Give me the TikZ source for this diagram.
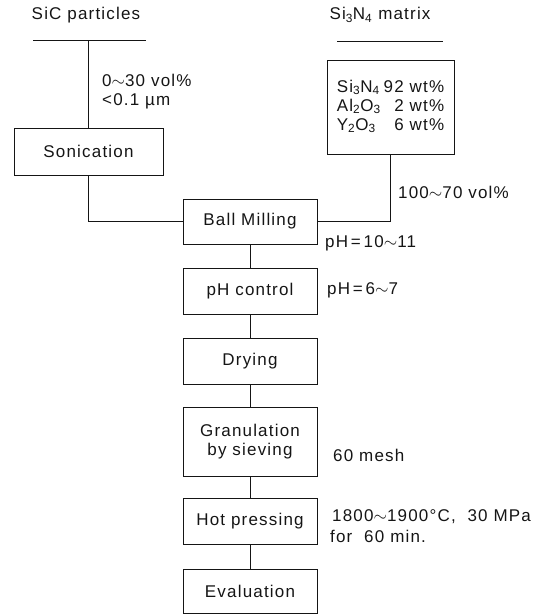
\documentclass[tikz,border=0pt]{standalone}
\usepackage{fontspec}
\setmainfont{Liberation Sans}[LetterSpace=7]
\usetikzlibrary{positioning}
\definecolor{fcInk}{HTML}{151515}
\newcommand{\tld}{$\sim$}

\begin{document}
\begin{tikzpicture}[
  x=1pt,y=-1pt,
  font=\fontsize{17}{19}\selectfont,
  procbox/.style={draw=fcInk, line width=1pt, minimum width=134pt,
                  minimum height=46pt, inner sep=0pt, align=center,
                  text=fcInk},
  heading/.style={inner sep=0pt, text=fcInk},
  note/.style={anchor=west, inner sep=0pt, align=left, text=fcInk},
  link/.style={draw=fcInk, line width=1pt},
]
  \path[use as bounding box] (0,0) rectangle (559,615);

  % Raw materials: SiC particles on the left, Si3N4 matrix on the right.
  \node[heading] (sictitle) at (86,15) {SiC particles};
  \coordinate (sicL) at (33,41);
  \coordinate (sicR) at (146,41);
  \coordinate (sictap) at (88.5,41);
  \draw[link] (sicL) -- (sicR);

  \node[heading] (mattitle) at (380,15)
    {Si\textsubscript{3}N\textsubscript{4} matrix};
  \coordinate (matL) at (337,42);
  \coordinate (matR) at (443,42);
  \draw[link] (matL) -- (matR);

  \node[procbox, minimum width=127pt, minimum height=93pt] (matbox)
    at (390.5,107.5)
    {\begin{tabular}{@{}l@{\hspace{3pt}}r@{}}
       Si\textsubscript{3}N\textsubscript{4} & 92 wt\% \\
       Al\textsubscript{2}O\textsubscript{3} & 2 wt\% \\
       Y\textsubscript{2}O\textsubscript{3} & 6 wt\%
     \end{tabular}};

  \node[procbox, minimum width=149pt, minimum height=47pt] (sonic)
    at (88.5,151.5) {Sonication};
  \node[note] (sicnote) at (102,92) {0\tld 30 vol\%\\<0.1 µm};
  \draw[link] (sictap) -- (sonic.north);

  % Main processing line.
  \node[procbox, minimum height=45pt] (ball) at (250,221.5) {Ball Milling};
  \node[procbox] (phc) at (250,291) {pH control};
  \node[procbox] (dry) at (250,361) {Drying};
  \node[procbox, minimum height=69pt] (gran) at (250,441.5)
    {Granulation\\by sieving};
  \node[procbox] (hot) at (250,521) {Hot pressing};
  \node[procbox, minimum height=44pt] (eval) at (250,591) {Evaluation};

  \draw[link] (sonic.south) |- (ball.west);
  \draw[link] (matbox.south) |- (ball.east);
  \draw[link] (ball) -- (phc);
  \draw[link] (phc) -- (dry);
  \draw[link] (dry) -- (gran);
  \draw[link] (gran) -- (hot);
  \draw[link] (hot) -- (eval);

  % Conditions beside the steps.
  \node[note] (matnote) at (398,192) {100\tld 70 vol\%};
  \node[note] (ballnote) at (325,243) {pH\,=\,10\tld 11};
  \node[note] (phcnote) at (327,290) {pH\,=\,6\tld 7};
  \node[note] (grannote) at (333,455) {60 mesh};
  \node[note] (hotnote) at (330,526)
    {\hspace{2pt}1800\tld 1900°C, \ 30 MPa\\[2pt]for \ 60 min.};
\end{tikzpicture}
\end{document}
